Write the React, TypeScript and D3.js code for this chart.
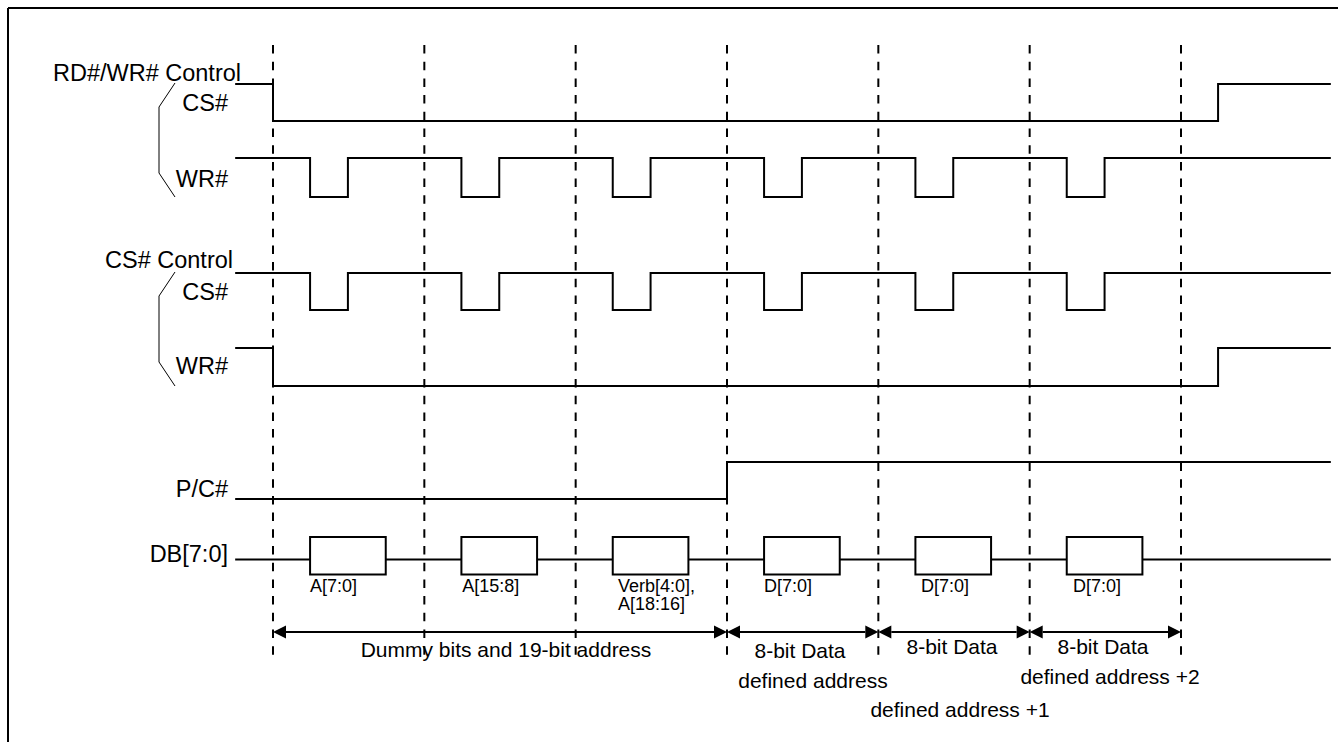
import React from "react";
import * as d3 from "d3";

// ---- data (time in bus-cycle units; dashed grid lines at integer cycles) ----
const gridCycles = [0, 1, 2, 3, 4, 5, 6];
const traceStart = -0.25;
const traceEnd = 6.99;

// step signals: [time, level]
const rdwrCS: [number, number][] = [[traceStart, 1], [0, 0], [6.245, 1], [traceEnd, 1]];
const strobe: [number, number][] = [
  [traceStart, 1],
  [0.245, 0], [0.495, 1],
  [1.245, 0], [1.495, 1],
  [2.245, 0], [2.495, 1],
  [3.245, 0], [3.495, 1],
  [4.245, 0], [4.495, 1],
  [5.245, 0], [5.495, 1],
  [traceEnd, 1],
];
const csWR: [number, number][] = [[traceStart, 1], [0, 0], [6.245, 1], [traceEnd, 1]];
const pcSignal: [number, number][] = [[traceStart, 0], [3, 1], [traceEnd, 1]];

// data bus boxes
const dbStarts = [0.245, 1.245, 2.245, 3.245, 4.245, 5.245];
const dbEnds = [0.745, 1.745, 2.745, 3.745, 4.745, 5.745];
const dbLabels = [["A[7:0]"], ["A[15:8]"], ["Verb[4:0],", "A[18:16]"], ["D[7:0]"], ["D[7:0]"], ["D[7:0]"]];
const dbLabelTimes = [0.245, 1.25, 2.28, 3.245, 4.282, 5.286];

// span arrows
const spanFrom = [0, 3, 4, 5];
const spanTo = [3, 4, 5, 6];
const spanTitles = ["Dummy bits and 19-bit address", "8-bit Data", "8-bit Data", "8-bit Data"];
const spanSubtitles = ["", "defined address", "defined address +1", "defined address +2"];

// left labels
const groupTitles = ["RD#/WR# Control", "CS# Control"];
const rowLabels = ["CS#", "WR#", "CS#", "WR#", "P/C#", "DB[7:0]"];

// ---- layout ----
const W = 1338;
const H = 742;
const FONT = "Arial, 'Liberation Sans', Helvetica, sans-serif";

export default function App() {
  const x = d3.scaleLinear().domain([0, 6]).range([273, 1181]);

  const rowYs = [
    d3.scaleLinear().domain([0, 1]).range([121, 84]),
    d3.scaleLinear().domain([0, 1]).range([197, 158]),
    d3.scaleLinear().domain([0, 1]).range([310, 273]),
    d3.scaleLinear().domain([0, 1]).range([386, 348]),
    d3.scaleLinear().domain([0, 1]).range([499, 462]),
  ];
  const signals = [rdwrCS, strobe, strobe, csWR, pcSignal];

  const dbY = 559.5;
  const dbTop = 537;
  const dbBot = 574.5;
  const arrowY = 632;

  const lineFor = (ys: d3.ScaleLinear<number, number>) =>
    d3
      .line<[number, number]>()
      .x((d) => x(d[0]))
      .y((d) => ys(d[1]))
      .curve(d3.curveStepAfter);

  const rowLabelX = 228;
  const rowLabelBase = [111, 187, 300, 374, 497, 562];
  const groupTitleX = [241, 233];
  const groupTitleBase = [81, 268];

  const braces = [
    [[175, 83], [159, 107], [159, 173], [175, 197]],
    [[175, 272], [159, 296], [159, 362], [175, 386]],
  ];

  const head = 13;
  const half = 6.5;

  return (
    <svg
      width={W}
      height={H}
      style={{ position: "absolute", left: 0, top: 0, background: "#fff" }}
      fontFamily={FONT}
    >
      <rect x={0} y={0} width={W} height={H} fill="#fff" />
      {/* frame */}
      <line x1={8} y1={8} x2={W} y2={8} stroke="#000" strokeWidth={2} />
      <line x1={8} y1={8} x2={8} y2={H} stroke="#000" strokeWidth={2} />

      {/* dashed grid */}
      {gridCycles.map((c) => (
        <line
          key={"g" + c}
          x1={x(c)}
          x2={x(c)}
          y1={45}
          y2={658}
          stroke="#000"
          strokeWidth={2}
          strokeDasharray="8.5 8.2"
        />
      ))}

      {/* step signals */}
      {signals.map((s, i) => (
        <path key={"s" + i} d={lineFor(rowYs[i])(s) || ""} fill="none" stroke="#000" strokeWidth={2} />
      ))}

      {/* data bus */}
      <line x1={x(traceStart)} x2={x(traceEnd)} y1={dbY} y2={dbY} stroke="#000" strokeWidth={2} />
      {dbStarts.map((s, i) => (
        <rect
          key={"b" + i}
          x={x(s)}
          y={dbTop}
          width={x(dbEnds[i]) - x(s)}
          height={dbBot - dbTop}
          fill="#fff"
          stroke="#000"
          strokeWidth={2}
        />
      ))}
      {dbLabels.map((lines, i) => (
        <text key={"bl" + i} x={x(dbLabelTimes[i])} y={592} fontSize={18} fill="#000">
          {lines.map((l, j) => (
            <tspan key={j} x={x(dbLabelTimes[i])} dy={j === 0 ? 0 : 18}>
              {l}
            </tspan>
          ))}
        </text>
      ))}

      {/* braces */}
      {braces.map((b, i) => (
        <polyline
          key={"br" + i}
          points={b.map((p) => p.join(",")).join(" ")}
          fill="none"
          stroke="#000"
          strokeWidth={1}
        />
      ))}

      {/* labels */}
      {groupTitles.map((t, i) => (
        <text key={"gt" + i} x={groupTitleX[i]} y={groupTitleBase[i]} fontSize={23.5} textAnchor="end" fill="#000">
          {t}
        </text>
      ))}
      {rowLabels.map((t, i) => (
        <text key={"rl" + i} x={rowLabelX} y={rowLabelBase[i]} fontSize={23.5} textAnchor="end" fill="#000">
          {t}
        </text>
      ))}

      {/* span arrows */}
      {spanFrom.map((f, i) => {
        const a = x(f);
        const b = x(spanTo[i]);
        return (
          <g key={"sp" + i}>
            <line x1={a + head} x2={b - head} y1={arrowY} y2={arrowY} stroke="#000" strokeWidth={2} />
            <path d={`M${a},${arrowY}L${a + head},${arrowY - half}L${a + head},${arrowY + half}Z`} fill="#000" />
            <path d={`M${b},${arrowY}L${b - head},${arrowY - half}L${b - head},${arrowY + half}Z`} fill="#000" />
          </g>
        );
      })}
      <text x={506} y={657} fontSize={21} textAnchor="middle" fill="#000">{spanTitles[0]}</text>
      <text x={800} y={658} fontSize={21} textAnchor="middle" fill="#000">{spanTitles[1]}</text>
      <text x={952} y={654} fontSize={21} textAnchor="middle" fill="#000">{spanTitles[2]}</text>
      <text x={1103} y={654} fontSize={21} textAnchor="middle" fill="#000">{spanTitles[3]}</text>
      <text x={813} y={688} fontSize={21} textAnchor="middle" fill="#000">{spanSubtitles[1]}</text>
      <text x={960} y={717} fontSize={21} textAnchor="middle" fill="#000">{spanSubtitles[2]}</text>
      <text x={1110} y={684} fontSize={21} textAnchor="middle" fill="#000">{spanSubtitles[3]}</text>
    </svg>
  );
}
